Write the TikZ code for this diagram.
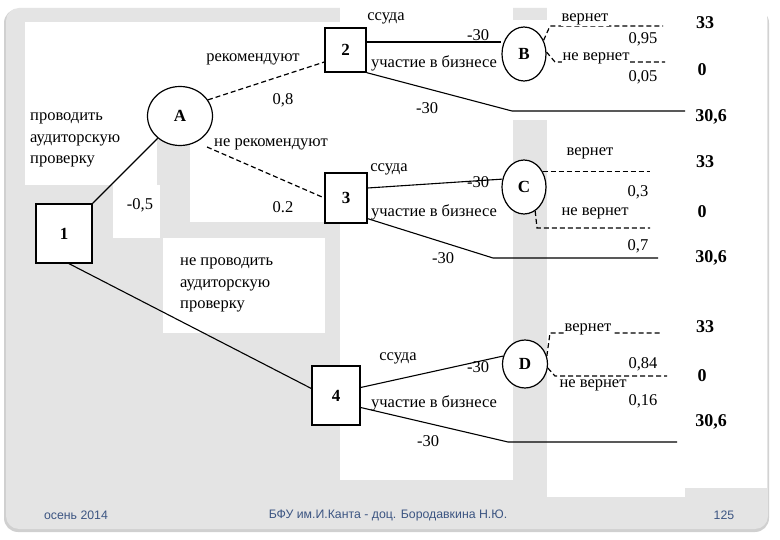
\documentclass[tikz,border=0pt]{standalone}
\usepackage{fontspec}
\setmainfont{Liberation Serif}
\newfontfamily\footfont{Liberation Sans}
\usetikzlibrary{shapes.geometric,calc}
\definecolor{slide}{RGB}{228,228,228}
\definecolor{slideedge}{RGB}{208,208,208}
\definecolor{foot}{RGB}{60,85,130}
\begin{document}
\begin{tikzpicture}[x=1pt,y=-1pt,
  dbox/.style={draw, line width=1.3pt, fill=white, inner sep=0pt, font=\fontsize{17}{17}\selectfont\bfseries},
  circ/.style={ellipse, draw, line width=1.2pt, fill=white, inner sep=0pt, font=\fontsize{17}{17}\selectfont\bfseries},
  lab/.style={inner sep=0pt, font=\fontsize{16.5}{20}\selectfont},
  mlab/.style={inner sep=0pt, align=left, anchor=north west, font=\fontsize{16.5}{21.5}\selectfont},
  wlab/.style={lab, fill=white, inner sep=1pt},
  val/.style={inner sep=0pt, font=\fontsize{18}{18}\selectfont\bfseries},
  conn/.style={line width=1.1pt},
  dsh/.style={line width=1.2pt, dash pattern=on 5pt off 3pt},
  foottxt/.style={inner sep=0pt, text=foot, font=\footfont\fontsize{12.3}{12.3}\selectfont}
]
\useasboundingbox (0,0) rectangle (780,540);
\fill[white] (0,0) rectangle (780,540);
% slide background
\fill[slideedge, rounded corners=14pt] (4,9) rectangle (769,532);
\fill[slide, rounded corners=13pt] (6,8) rectangle (768,529);
% white patches
\fill[white] (25,22) rectangle (340,140);
\fill[white] (25,140) rectangle (157,185);
\fill[white] (190,140) rectangle (340,222);
\fill[white] (113,185) rectangle (160,238);
\fill[white] (163,238) rectangle (325,333);
\fill[white] (340,0) rectangle (513,480);
\fill[white] (513,20) rectangle (547,120);
\fill[white] (547,0) rectangle (767,488);
\fill[white] (547,488) rectangle (685,497);

% decision and chance nodes
\node[dbox, minimum width=56pt, minimum height=59pt] (n1) at (64,233.5) {1};
\node[dbox, minimum width=41pt, minimum height=44pt] (n2) at (345.5,50) {2};
\node[dbox, minimum width=42pt, minimum height=50pt] (n3) at (346,198) {3};
\node[dbox, minimum width=48pt, minimum height=59pt] (n4) at (336,395.5) {4};
\node[circ, minimum width=65pt, minimum height=59pt] (A) at (180,116) {A};
\node[circ, minimum width=44pt, minimum height=54pt] (B) at (524,54) {B};
\node[circ, minimum width=44pt, minimum height=54pt] (C) at (524,187) {C};
\node[circ, minimum width=45pt, minimum height=48pt] (D) at (525,364) {D};

% free ends
\coordinate (aL) at (207,147);
\coordinate (bU) at (512,111); \coordinate (bE) at (685,111);
\coordinate (bV1) at (550,26); \coordinate (bV2) at (663,26);
\coordinate (bN1) at (555,62); \coordinate (bN2) at (665,62);
\coordinate (cU) at (493,258); \coordinate (cE) at (658,258);
\coordinate (cV) at (650,0);
\coordinate (cN1) at (537,228); \coordinate (cN2) at (650,228);
\coordinate (dU) at (508,442); \coordinate (dE) at (677,442);
\coordinate (dV1) at (550,333); \coordinate (dV2) at (662,333);
\coordinate (dN1) at (555,376); \coordinate (dN2) at (667,376);
\coordinate (s1) at ([xshift=5pt]n1.south);
\coordinate (s4) at ([yshift=7pt]n4.west);
\coordinate (s2) at ([yshift=-12pt]n2.west);
\coordinate (b2) at ([yshift=8pt]n2.east);
\coordinate (c3) at ([yshift=10pt]n3.east);
\coordinate (c3b) at ([yshift=5pt]n3.south east);
\coordinate (d4) at ([yshift=8pt]n4.east);
\coordinate (d4b) at ([yshift=-12pt]n4.east);

% connectors
\draw[conn] (n1.north east) -- (A);
\draw[conn] (s1) -- (s4);
\draw[dsh] (A.30) -- (s2);
\draw[dsh] (aL) -- (n3.west);
\draw[conn] (b2) -- (b2 -| B.west);
\draw[conn] (n2.south east) -- (bU) -- (bE);
\draw[dsh] (B.35) -- (bV1) -- (bV2);
\draw[dsh] (B.5) -- (bN1) -- (bN2);
\draw[conn] (c3) -- (C.160);
\draw[conn] (c3b) -- (cU) -- (cE);
\draw[dsh] (C.40) -- (C.40 -| cV);
\draw[dsh] (C.-65) -- (cN1) -- (cN2);
\draw[conn] (d4) -- (D.160);
\draw[conn] (d4b) -- (dU) -- (dE);
\draw[dsh] (D.20) -- (dV1) -- (dV2);
\draw[dsh] (D.-10) -- (dN1) -- (dN2);

% labels left part
\node[mlab] (t1) at (30,113) {проводить\\аудиторскую\\проверку};
\node[mlab] (t2) at (180,258) {не проводить\\аудиторскую\\проверку};
\node[lab] (t3) at (253,59) {рекомендуют};
\node[lab] (t4) at (283,100) {0,8};
\node[lab] (t5) at (271,144) {не рекомендуют};
\node[lab] (t6) at (140,205) {-0,5};
\node[lab] (t7) at (283,207) {0.2};

% box 2 / B
\node[lab] (u1) at (386,18) {ссуда};
\node[lab] (u2) at (478,35) {-30};
\node[lab] (u3) at (434,63) {участие в бизнесе};
\node[lab] (u4) at (427,108) {-30};
\node[wlab] (u5) at (585,19) {вернет};
\node[lab] (u6) at (643,39) {0,95};
\node[wlab] (u7) at (596,58) {не вернет};
\node[lab] (u8) at (643,77) {0,05};
\node[val] (u9) at (705,23) {33};
\node[val] (u10) at (702,70) {0};
\node[val] (u11) at (711,117) {30,6};

% box 3 / C
\node[lab] (v1) at (389,169) {ссуда};
\node[lab] (v2) at (478,182) {-30};
\node[lab] (v3) at (434,212) {участие в бизнесе};
\node[lab] (v4) at (443,258) {-30};
\node[lab] (v5) at (590,153) {вернет};
\node[lab] (v6) at (638,192) {0,3};
\node[lab] (v7) at (595,213) {не вернет};
\node[lab] (v8) at (638,246) {0,7};
\node[val] (v9) at (705,162) {33};
\node[val] (v10) at (702,212) {0};
\node[val] (v11) at (711,258) {30,6};

% box 4 / D
\node[lab] (w1) at (398,358) {ссуда};
\node[lab] (w2) at (478,367) {-30};
\node[lab] (w3) at (434,403) {участие в бизнесе};
\node[lab] (w4) at (428,441) {-30};
\node[wlab] (w5) at (588,329) {вернет};
\node[lab] (w6) at (643,364) {0,84};
\node[lab] (w7) at (593,385) {не вернет};
\node[lab] (w8) at (643,401) {0,16};
\node[val] (w9) at (705,327) {33};
\node[val] (w10) at (702,376) {0};
\node[val] (w11) at (711,422) {30,6};

% footer
\node[foottxt] (f1) at (76,515) {осень 2014};
\node[foottxt] (f2) at (388,515) {БФУ им.И.Канта - доц. Бородавкина Н.Ю.};
\node[foottxt] (f3) at (724,515) {125};
\end{tikzpicture}
\end{document}
